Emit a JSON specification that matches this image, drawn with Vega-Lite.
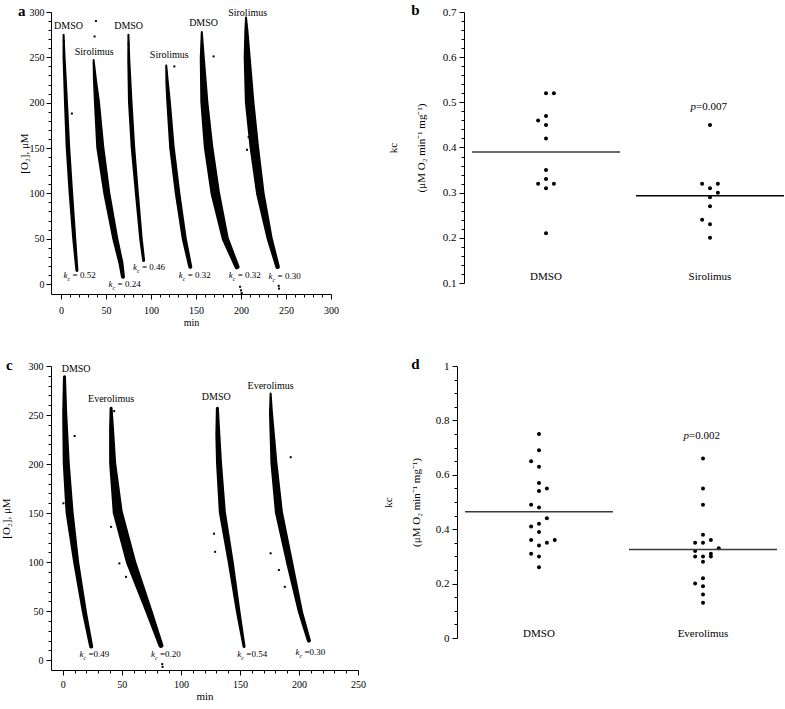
{
  "$schema": "https://vega.github.io/schema/vega-lite/v6.json",
  "background": "white",
  "padding": {"left": 0, "top": 3, "right": 0, "bottom": 0},
  "config": {
    "font": "Liberation Serif",
    "view": {"stroke": null},
    "axis": {"labelFont": "Liberation Serif", "titleFont": "Liberation Serif", "labelColor": "black", "titleColor": "black", "domainColor": "black", "tickColor": "black", "grid": false, "labelFontSize": 10, "titleFontSize": 11, "titleFontWeight": "normal", "domainWidth": 1, "tickWidth": 1, "tickSize": 4, "ticks": true, "labelOverlap": false, "labelFlush": false},
    "title": {"font": "Liberation Serif", "fontSize": 15, "fontWeight": "bold", "anchor": "start", "frame": "bounds", "color": "black"},
    "text": {"font": "Liberation Serif", "color": "black"}
  },
  "datasets": {
    "traceA": [
      {"run": "A1", "t": 3.0, "o2": 275, "w": 2}, {"run": "A1", "t": 3.5, "o2": 250, "w": 3}, {"run": "A1", "t": 5.6, "o2": 201, "w": 4}, {"run": "A1", "t": 7.8, "o2": 151, "w": 4.5}, {"run": "A1", "t": 11.1, "o2": 100, "w": 4.5}, {"run": "A1", "t": 14.8, "o2": 50, "w": 4}, {"run": "A1", "t": 17.8, "o2": 15, "w": 3},
      {"run": "A2", "t": 36.3, "o2": 247, "w": 2}, {"run": "A2", "t": 37.8, "o2": 225, "w": 4}, {"run": "A2", "t": 40.0, "o2": 201, "w": 6}, {"run": "A2", "t": 43.7, "o2": 151, "w": 8}, {"run": "A2", "t": 51.0, "o2": 100, "w": 7}, {"run": "A2", "t": 60.4, "o2": 50, "w": 6}, {"run": "A2", "t": 66.7, "o2": 23, "w": 5}, {"run": "A2", "t": 68.9, "o2": 8, "w": 4},
      {"run": "A3", "t": 75.0, "o2": 275, "w": 2}, {"run": "A3", "t": 75.4, "o2": 247, "w": 3}, {"run": "A3", "t": 77.0, "o2": 201, "w": 4.5}, {"run": "A3", "t": 80.0, "o2": 151, "w": 4.5}, {"run": "A3", "t": 84.4, "o2": 100, "w": 4}, {"run": "A3", "t": 88.9, "o2": 50, "w": 3.5}, {"run": "A3", "t": 91.9, "o2": 26, "w": 3},
      {"run": "A4", "t": 117.0, "o2": 241, "w": 2}, {"run": "A4", "t": 118.0, "o2": 222, "w": 3.5}, {"run": "A4", "t": 119.6, "o2": 201, "w": 4.5}, {"run": "A4", "t": 123.3, "o2": 151, "w": 5.5}, {"run": "A4", "t": 129.6, "o2": 100, "w": 5.5}, {"run": "A4", "t": 137.0, "o2": 50, "w": 5}, {"run": "A4", "t": 143.7, "o2": 19, "w": 4},
      {"run": "A5", "t": 156.5, "o2": 278, "w": 2}, {"run": "A5", "t": 157.0, "o2": 250, "w": 5}, {"run": "A5", "t": 159.3, "o2": 201, "w": 8}, {"run": "A5", "t": 164.0, "o2": 151, "w": 9.5}, {"run": "A5", "t": 171.5, "o2": 100, "w": 9.5}, {"run": "A5", "t": 182.6, "o2": 50, "w": 7}, {"run": "A5", "t": 195.6, "o2": 19, "w": 5},
      {"run": "A6", "t": 205.6, "o2": 294, "w": 2}, {"run": "A6", "t": 206.0, "o2": 280, "w": 4}, {"run": "A6", "t": 206.9, "o2": 250, "w": 7}, {"run": "A6", "t": 209.6, "o2": 201, "w": 9.5}, {"run": "A6", "t": 214.8, "o2": 151, "w": 9.5}, {"run": "A6", "t": 221.5, "o2": 100, "w": 8.5}, {"run": "A6", "t": 231.9, "o2": 50, "w": 6}, {"run": "A6", "t": 240.7, "o2": 19, "w": 4.5}
    ],
    "strayA": [
      {"t": 38.9, "o2": 290}, {"t": 37.4, "o2": 273}, {"t": 12.2, "o2": 188}, {"t": 75.3, "o2": 265}, {"t": 3.2, "o2": 268},
      {"t": 199.0, "o2": -3}, {"t": 200.0, "o2": -7}, {"t": 200.8, "o2": -10}, {"t": 241.9, "o2": -2}, {"t": 242.3, "o2": -5},
      {"t": 160.4, "o2": 174}, {"t": 166.0, "o2": 129}, {"t": 206.7, "o2": 148}, {"t": 208.5, "o2": 162}, {"t": 169.6, "o2": 251}, {"t": 47.0, "o2": 120}, {"t": 126.0, "o2": 240}
    ],
    "annA": [
      {"t": 8.5, "o2": 284.5, "lab": "DMSO"}, {"t": 37, "o2": 255.5, "lab": "Sirolimus"}, {"t": 75.2, "o2": 284.5, "lab": "DMSO"},
      {"t": 120.4, "o2": 252.6, "lab": "Sirolimus"}, {"t": 158.5, "o2": 287.5, "lab": "DMSO"}, {"t": 207.4, "o2": 299, "lab": "Sirolimus"}
    ],
    "kcA": [
      {"t": 3, "o2": 9.9, "v": "= 0.52"}, {"t": 53, "o2": -0.4, "v": "= 0.24"}, {"t": 80, "o2": 19, "v": "= 0.46"},
      {"t": 130.8, "o2": 9.9, "v": "= 0.32"}, {"t": 186.3, "o2": 9.9, "v": "= 0.32"}, {"t": 230.7, "o2": 8.8, "v": "= 0.30"}
    ],
    "traceC": [
      {"run": "C1", "t": 1.4, "o2": 289, "w": 3}, {"run": "C1", "t": 1.6, "o2": 252, "w": 5}, {"run": "C1", "t": 2.9, "o2": 201, "w": 7}, {"run": "C1", "t": 5.7, "o2": 151, "w": 8}, {"run": "C1", "t": 11.3, "o2": 100, "w": 6}, {"run": "C1", "t": 18.3, "o2": 49, "w": 5}, {"run": "C1", "t": 24.0, "o2": 14, "w": 4},
      {"run": "C2", "t": 40.9, "o2": 257, "w": 3}, {"run": "C2", "t": 41.3, "o2": 235, "w": 5}, {"run": "C2", "t": 42.2, "o2": 201, "w": 7}, {"run": "C2", "t": 46.5, "o2": 151, "w": 10}, {"run": "C2", "t": 57.8, "o2": 100, "w": 10}, {"run": "C2", "t": 73.2, "o2": 49, "w": 7}, {"run": "C2", "t": 83.1, "o2": 15, "w": 5},
      {"run": "C3", "t": 130.9, "o2": 257, "w": 3}, {"run": "C3", "t": 131.3, "o2": 230, "w": 5}, {"run": "C3", "t": 132.3, "o2": 201, "w": 6}, {"run": "C3", "t": 135.1, "o2": 151, "w": 7}, {"run": "C3", "t": 142.2, "o2": 100, "w": 6}, {"run": "C3", "t": 148.6, "o2": 49, "w": 4.5}, {"run": "C3", "t": 153.5, "o2": 14, "w": 3},
      {"run": "C4", "t": 176.0, "o2": 272, "w": 2}, {"run": "C4", "t": 176.3, "o2": 252, "w": 4}, {"run": "C4", "t": 178.8, "o2": 201, "w": 7}, {"run": "C4", "t": 183.0, "o2": 151, "w": 8}, {"run": "C4", "t": 192.0, "o2": 100, "w": 7}, {"run": "C4", "t": 201.3, "o2": 49, "w": 5}, {"run": "C4", "t": 208.4, "o2": 20, "w": 4}
    ],
    "strayC": [
      {"t": 10, "o2": 228.6}, {"t": 193, "o2": 207}, {"t": 40.9, "o2": 136}, {"t": 47.9, "o2": 98.7}, {"t": 53.5, "o2": 85},
      {"t": 128, "o2": 129}, {"t": 129, "o2": 110.5}, {"t": 176, "o2": 109}, {"t": 183, "o2": 92}, {"t": 188, "o2": 74.8},
      {"t": 84.5, "o2": -6.8}, {"t": 84.2, "o2": -4}, {"t": 43.5, "o2": 254}, {"t": 0.5, "o2": 160}
    ],
    "annC": [
      {"t": 11.3, "o2": 296.6, "lab": "DMSO"}, {"t": 40.9, "o2": 266, "lab": "Everolimus"}, {"t": 130, "o2": 268.7, "lab": "DMSO"}, {"t": 176, "o2": 279.6, "lab": "Everolimus"}
    ],
    "kcC": [
      {"t": 14.1, "o2": 6, "v": "=0.49"}, {"t": 74.7, "o2": 6, "v": "=0.20"}, {"t": 147.8, "o2": 6, "v": "=0.54"}, {"t": 197.1, "o2": 8, "v": "=0.30"}
    ],
    "kB": [
      {"g": "DMSO", "k": 0.52, "slot": 0}, {"g": "DMSO", "k": 0.52, "slot": 1}, {"g": "DMSO", "k": 0.47, "slot": 0}, {"g": "DMSO", "k": 0.46, "slot": -1},
      {"g": "DMSO", "k": 0.45, "slot": 0}, {"g": "DMSO", "k": 0.42, "slot": 0}, {"g": "DMSO", "k": 0.35, "slot": 0}, {"g": "DMSO", "k": 0.33, "slot": 0},
      {"g": "DMSO", "k": 0.32, "slot": -1}, {"g": "DMSO", "k": 0.32, "slot": 1}, {"g": "DMSO", "k": 0.31, "slot": 0}, {"g": "DMSO", "k": 0.21, "slot": 0},
      {"g": "Sirolimus", "k": 0.45, "slot": 0}, {"g": "Sirolimus", "k": 0.32, "slot": -1}, {"g": "Sirolimus", "k": 0.32, "slot": 1}, {"g": "Sirolimus", "k": 0.31, "slot": 0},
      {"g": "Sirolimus", "k": 0.30, "slot": 1}, {"g": "Sirolimus", "k": 0.29, "slot": 0}, {"g": "Sirolimus", "k": 0.27, "slot": 0}, {"g": "Sirolimus", "k": 0.24, "slot": -1},
      {"g": "Sirolimus", "k": 0.23, "slot": 0}, {"g": "Sirolimus", "k": 0.20, "slot": 0}
    ],
    "kD": [
      {"g": "DMSO", "k": 0.75, "slot": 0}, {"g": "DMSO", "k": 0.69, "slot": 0}, {"g": "DMSO", "k": 0.65, "slot": -1}, {"g": "DMSO", "k": 0.63, "slot": 0},
      {"g": "DMSO", "k": 0.57, "slot": 0}, {"g": "DMSO", "k": 0.55, "slot": 1}, {"g": "DMSO", "k": 0.54, "slot": 0}, {"g": "DMSO", "k": 0.49, "slot": -1},
      {"g": "DMSO", "k": 0.48, "slot": 0}, {"g": "DMSO", "k": 0.44, "slot": 1}, {"g": "DMSO", "k": 0.42, "slot": 0}, {"g": "DMSO", "k": 0.41, "slot": -1},
      {"g": "DMSO", "k": 0.39, "slot": 0}, {"g": "DMSO", "k": 0.36, "slot": -1}, {"g": "DMSO", "k": 0.36, "slot": 2}, {"g": "DMSO", "k": 0.35, "slot": 1},
      {"g": "DMSO", "k": 0.34, "slot": 0}, {"g": "DMSO", "k": 0.31, "slot": -1}, {"g": "DMSO", "k": 0.30, "slot": 0}, {"g": "DMSO", "k": 0.26, "slot": 0},
      {"g": "Everolimus", "k": 0.66, "slot": 0}, {"g": "Everolimus", "k": 0.55, "slot": 0}, {"g": "Everolimus", "k": 0.49, "slot": 0}, {"g": "Everolimus", "k": 0.38, "slot": 0},
      {"g": "Everolimus", "k": 0.36, "slot": 1}, {"g": "Everolimus", "k": 0.35, "slot": -1}, {"g": "Everolimus", "k": 0.35, "slot": 0}, {"g": "Everolimus", "k": 0.33, "slot": 2},
      {"g": "Everolimus", "k": 0.32, "slot": -1}, {"g": "Everolimus", "k": 0.31, "slot": 1}, {"g": "Everolimus", "k": 0.30, "slot": -1}, {"g": "Everolimus", "k": 0.30, "slot": 0},
      {"g": "Everolimus", "k": 0.30, "slot": 1}, {"g": "Everolimus", "k": 0.28, "slot": 0}, {"g": "Everolimus", "k": 0.22, "slot": 0}, {"g": "Everolimus", "k": 0.20, "slot": -1},
      {"g": "Everolimus", "k": 0.19, "slot": 0}, {"g": "Everolimus", "k": 0.16, "slot": 0}, {"g": "Everolimus", "k": 0.13, "slot": 0}
    ],
    "pB": [{"g": "Sirolimus", "k": 0.49, "v": "=0.007"}],
    "pD": [{"g": "Everolimus", "k": 0.743, "v": "=0.002"}]
  },
  "spacing": 30,
  "vconcat": [
    {
      "spacing": 48,
      "hconcat": [
        {
          "width": 280, "height": 282,
          "title": {"text": "a", "dx": 0, "dy": 16, "baseline": "top"},
          "layer": [
            {
              "data": {"name": "traceA"},
              "mark": {"type": "trail", "color": "black"},
              "encoding": {
                "x": {"field": "t", "type": "quantitative", "scale": {"domain": [-11, 300], "nice": false, "zero": false},
                      "axis": {"title": "min", "titleFontSize": 10, "tickCount": 1000, "values": [0,10,20,30,40,50,60,70,80,90,100,110,120,130,140,150,160,170,180,190,200,210,220,230,240,250,260,270,280,290,300],
                               "labelExpr": "datum.value % 50 === 0 ? format(datum.value, 'd') : ''", "tickSize": {"condition": {"test": "datum.value % 50 === 0", "value": 5}, "value": 3}, "labelPadding": 6, "titlePadding": 2}},
                "y": {"field": "o2", "type": "quantitative", "scale": {"domain": [-11, 300], "nice": false, "zero": false},
                      "axis": {"title": "[O₂], μM", "tickCount": 1000, "values": [0,10,20,30,40,50,60,70,80,90,100,110,120,130,140,150,160,170,180,190,200,210,220,230,240,250,260,270,280,290,300],
                               "labelExpr": "datum.value % 50 === 0 ? format(datum.value, 'd') : ''", "tickSize": {"condition": {"test": "datum.value % 50 === 0", "value": 5}, "value": 3}, "labelPadding": 2, "titlePadding": 0}},
                "size": {"field": "w", "type": "quantitative", "scale": null},
                "detail": {"field": "run"}
              }
            },
            {
              "data": {"name": "strayA"},
              "mark": {"type": "square", "filled": true, "color": "black", "size": 4, "opacity": 1},
              "encoding": {"x": {"field": "t", "type": "quantitative"}, "y": {"field": "o2", "type": "quantitative"}}
            },
            {
              "data": {"name": "annA"},
              "mark": {"type": "text", "fontSize": 10, "align": "center", "baseline": "middle"},
              "encoding": {"x": {"field": "t", "type": "quantitative"}, "y": {"field": "o2", "type": "quantitative"}, "text": {"field": "lab"}}
            },
            {
              "data": {"name": "kcA"},
              "mark": {"type": "text", "text": "k", "fontSize": 9, "fontStyle": "italic", "align": "left", "baseline": "middle"},
              "encoding": {"x": {"field": "t", "type": "quantitative"}, "y": {"field": "o2", "type": "quantitative"}}
            },
            {
              "data": {"name": "kcA"},
              "mark": {"type": "text", "text": "c", "fontSize": 6, "fontStyle": "italic", "align": "left", "baseline": "middle", "dx": 4, "dy": 4},
              "encoding": {"x": {"field": "t", "type": "quantitative"}, "y": {"field": "o2", "type": "quantitative"}}
            },
            {
              "data": {"name": "kcA"},
              "mark": {"type": "text", "fontSize": 9, "align": "left", "baseline": "middle", "dx": 9},
              "encoding": {"x": {"field": "t", "type": "quantitative"}, "y": {"field": "o2", "type": "quantitative"}, "text": {"field": "v"}}
            }
          ]
        },
        {
          "width": 316, "height": 271,
          "title": {"text": "b", "dx": 24, "dy": 16, "baseline": "top"},
          "layer": [
            {
              "data": {"name": "kB"},
              "mark": {"type": "circle", "size": 16, "color": "black", "opacity": 1},
              "encoding": {
                "x": {"field": "g", "type": "nominal", "sort": ["DMSO", "Sirolimus"], "scale": {"range": [0, 328], "paddingInner": 0, "paddingOuter": 0},
                      "axis": {"title": null, "domain": false, "ticks": false, "labelAngle": 0, "labelFontSize": 11, "offset": -13, "labelPadding": 0}},
                "xOffset": {"field": "slot", "type": "ordinal", "scale": {"domain": [-2, -1, 0, 1, 2], "range": [66.25, 97.75], "paddingInner": 0, "paddingOuter": 0}},
                "y": {"field": "k", "type": "quantitative", "scale": {"domain": [0.1, 0.7], "nice": false, "zero": false},
                      "axis": {"title": ["kc", "(μM O₂ min⁻¹ mg⁻¹)"], "titleLineHeight": 28, "tickCount": 1000, "values": [0.1,0.12,0.14,0.16,0.18,0.2,0.22,0.24,0.26,0.28,0.3,0.32,0.34,0.36,0.38,0.4,0.42,0.44,0.46,0.48,0.5,0.52,0.54,0.56,0.58,0.6,0.62,0.64,0.66,0.68,0.7],
                               "labelExpr": "abs(datum.value*10 - round(datum.value*10)) < 0.001 ? format(datum.value, '.1f') : ''",
                               "tickSize": {"condition": {"test": "abs(datum.value*10 - round(datum.value*10)) < 0.001", "value": 5}, "value": 3}, "labelFontSize": 11, "labelPadding": 3, "titlePadding": 16}}
              }
            },
            {
              "data": {"name": "kB"},
              "mark": {"type": "tick", "size": 148, "thickness": 1.5},
              "encoding": {
                "x": {"field": "g", "type": "nominal"},
                "y": {"field": "k", "type": "quantitative", "aggregate": "mean"},
                "color": {"field": "g", "type": "nominal", "scale": {"domain": ["DMSO", "Sirolimus"], "range": ["#3a3a3a", "#000000"]}, "legend": null}
              }
            },
            {
              "data": {"name": "pB"},
              "mark": {"type": "text", "text": "p", "fontSize": 11, "fontStyle": "italic", "align": "right", "baseline": "middle", "dx": -14},
              "encoding": {"x": {"field": "g", "type": "nominal"}, "y": {"field": "k", "type": "quantitative"}}
            },
            {
              "data": {"name": "pB"},
              "mark": {"type": "text", "fontSize": 11, "align": "left", "baseline": "middle", "dx": -14},
              "encoding": {"x": {"field": "g", "type": "nominal"}, "y": {"field": "k", "type": "quantitative"}, "text": {"field": "v"}}
            }
          ]
        }
      ]
    },
    {
      "spacing": 16,
      "hconcat": [
        {
          "width": 307, "height": 304,
          "title": {"text": "c", "dx": 6, "dy": 16, "baseline": "top"},
          "layer": [
            {
              "data": {"name": "traceC"},
              "mark": {"type": "trail", "color": "black"},
              "encoding": {
                "x": {"field": "t", "type": "quantitative", "scale": {"domain": [-10, 250], "nice": false, "zero": false},
                      "axis": {"title": "min", "titleFontSize": 11, "tickCount": 1000, "values": [0,10,20,30,40,50,60,70,80,90,100,110,120,130,140,150,160,170,180,190,200,210,220,230,240,250],
                               "labelExpr": "datum.value % 50 === 0 ? format(datum.value, 'd') : ''", "tickSize": {"condition": {"test": "datum.value % 50 === 0", "value": 5}, "value": 3}, "labelPadding": 4, "titlePadding": 1}},
                "y": {"field": "o2", "type": "quantitative", "scale": {"domain": [-10, 300], "nice": false, "zero": false},
                      "axis": {"title": "[O₂], μM", "tickCount": 1000, "values": [0,10,20,30,40,50,60,70,80,90,100,110,120,130,140,150,160,170,180,190,200,210,220,230,240,250,260,270,280,290,300],
                               "labelExpr": "datum.value % 50 === 0 ? format(datum.value, 'd') : ''", "tickSize": {"condition": {"test": "datum.value % 50 === 0", "value": 5}, "value": 3}, "labelPadding": 3, "titlePadding": 17}},
                "size": {"field": "w", "type": "quantitative", "scale": null},
                "detail": {"field": "run"}
              }
            },
            {
              "data": {"name": "strayC"},
              "mark": {"type": "square", "filled": true, "color": "black", "size": 4, "opacity": 1},
              "encoding": {"x": {"field": "t", "type": "quantitative"}, "y": {"field": "o2", "type": "quantitative"}}
            },
            {
              "data": {"name": "annC"},
              "mark": {"type": "text", "fontSize": 10, "align": "center", "baseline": "middle"},
              "encoding": {"x": {"field": "t", "type": "quantitative"}, "y": {"field": "o2", "type": "quantitative"}, "text": {"field": "lab"}}
            },
            {
              "data": {"name": "kcC"},
              "mark": {"type": "text", "text": "k", "fontSize": 9, "fontStyle": "italic", "align": "left", "baseline": "middle"},
              "encoding": {"x": {"field": "t", "type": "quantitative"}, "y": {"field": "o2", "type": "quantitative"}}
            },
            {
              "data": {"name": "kcC"},
              "mark": {"type": "text", "text": "c", "fontSize": 6, "fontStyle": "italic", "align": "left", "baseline": "middle", "dx": 4, "dy": 4},
              "encoding": {"x": {"field": "t", "type": "quantitative"}, "y": {"field": "o2", "type": "quantitative"}}
            },
            {
              "data": {"name": "kcC"},
              "mark": {"type": "text", "fontSize": 9, "align": "left", "baseline": "middle", "dx": 9},
              "encoding": {"x": {"field": "t", "type": "quantitative"}, "y": {"field": "o2", "type": "quantitative"}, "text": {"field": "v"}}
            }
          ]
        },
        {
          "width": 316, "height": 272,
          "title": {"text": "d", "dx": 29, "dy": 16, "baseline": "top"},
          "layer": [
            {
              "data": {"name": "kD"},
              "mark": {"type": "circle", "size": 16, "color": "black", "opacity": 1},
              "encoding": {
                "x": {"field": "g", "type": "nominal", "sort": ["DMSO", "Everolimus"], "scale": {"range": [0, 328], "paddingInner": 0, "paddingOuter": 0},
                      "axis": {"title": null, "domain": false, "ticks": false, "labelAngle": 0, "labelFontSize": 11, "offset": -11, "labelPadding": 0}},
                "xOffset": {"field": "slot", "type": "ordinal", "scale": {"domain": [-2, -1, 0, 1, 2], "range": [66.25, 97.75], "paddingInner": 0, "paddingOuter": 0}},
                "y": {"field": "k", "type": "quantitative", "scale": {"domain": [0, 1], "nice": false, "zero": false},
                      "axis": {"title": ["kc", "(μM O₂ min⁻¹ mg⁻¹)"], "titleLineHeight": 28, "tickCount": 1000, "values": [0,0.05,0.1,0.15,0.2,0.25,0.3,0.35,0.4,0.45,0.5,0.55,0.6,0.65,0.7,0.75,0.8,0.85,0.9,0.95,1],
                               "labelExpr": "abs(datum.value*5 - round(datum.value*5)) < 0.001 ? format(datum.value, '~g') : ''",
                               "tickSize": {"condition": {"test": "abs(datum.value*5 - round(datum.value*5)) < 0.001", "value": 5}, "value": 3}, "labelFontSize": 11, "labelPadding": 3, "titlePadding": 14}}
              }
            },
            {
              "data": {"name": "kD"},
              "mark": {"type": "tick", "size": 148, "thickness": 1.5},
              "encoding": {
                "x": {"field": "g", "type": "nominal"},
                "y": {"field": "k", "type": "quantitative", "aggregate": "mean"},
                "color": {"field": "g", "type": "nominal", "scale": {"domain": ["DMSO", "Everolimus"], "range": ["#6e6e6e", "#000000"]}, "legend": null}
              }
            },
            {
              "data": {"name": "pD"},
              "mark": {"type": "text", "text": "p", "fontSize": 11, "fontStyle": "italic", "align": "right", "baseline": "middle", "dx": -14},
              "encoding": {"x": {"field": "g", "type": "nominal"}, "y": {"field": "k", "type": "quantitative"}}
            },
            {
              "data": {"name": "pD"},
              "mark": {"type": "text", "fontSize": 11, "align": "left", "baseline": "middle", "dx": -14},
              "encoding": {"x": {"field": "g", "type": "nominal"}, "y": {"field": "k", "type": "quantitative"}, "text": {"field": "v"}}
            }
          ]
        }
      ]
    }
  ]
}
